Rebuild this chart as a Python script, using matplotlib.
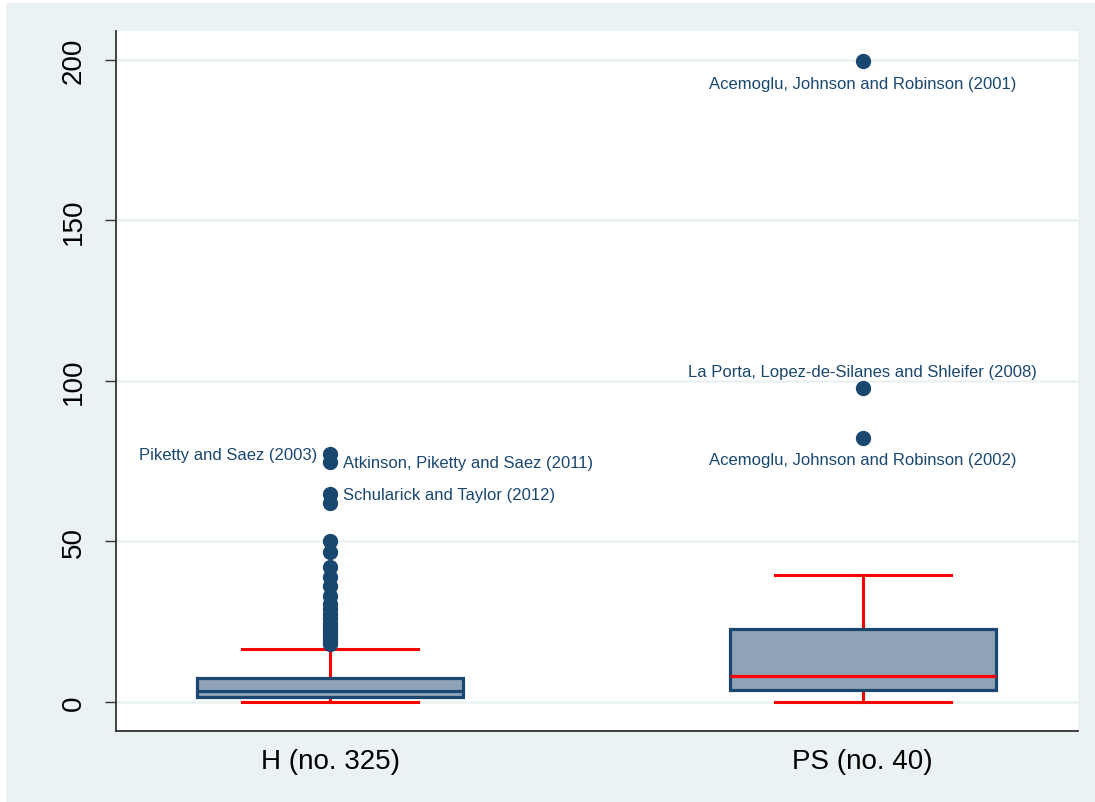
import matplotlib
matplotlib.use("Agg")
import matplotlib.pyplot as plt
from matplotlib.patches import Rectangle

plt.rcParams['font.family'] = ['Liberation Sans', 'DejaVu Sans']

# Groups and their summary statistics
groups = ["H (no. 325)", "PS (no. 40)"]
q1 = [1.5, 3.7]
median = [3.4, 8.0]
q3 = [7.4, 22.7]
whisker_low = [0.0, 0.0]
whisker_high = [16.4, 39.6]

# Outlying observations per group
fliers_h = [77.2, 74.6, 64.7, 61.9, 50.2, 46.6, 42.1, 38.9, 36.2, 33.0, 30.6,
            28.9, 27.4, 26.0, 24.6, 23.2, 22.0, 20.9, 19.9, 18.9, 17.9]
fliers_ps = [199.5, 97.7, 82.3]

# Labelled outliers: (group index, value, text, placement)
labels = [
    (0, 77.2, "Piketty and Saez (2003)", "left"),
    (0, 74.6, "Atkinson, Piketty and Saez (2011)", "right"),
    (0, 64.7, "Schularick and Taylor (2012)", "right"),
    (1, 199.5, "Acemoglu, Johnson and Robinson (2001)", "below"),
    (1, 97.7, "La Porta, Lopez-de-Silanes and Shleifer (2008)", "above"),
    (1, 82.3, "Acemoglu, Johnson and Robinson (2002)", "below"),
]

yticks = [0, 50, 100, 150, 200]

navy = "#1a476f"
fill = "#8ea3b8"
red = "#ff0000"
bg = "#eaf2f3"

fig = plt.figure(figsize=(10.95, 8.03), dpi=100, facecolor="white")
frame = Rectangle((6 / 1095, 0), 1 - 6 / 1095, 1 - 4 / 803,
                  transform=fig.transFigure, facecolor=bg,
                  edgecolor="none", zorder=-10)
fig.add_artist(frame)

ax = fig.add_axes([116 / 1095, 71 / 803, 962 / 1095, 700 / 803])
ax.set_facecolor("white")

stats = []
for i, name in enumerate(groups):
    stats.append(dict(label=name, med=median[i], q1=q1[i], q3=q3[i],
                      whislo=whisker_low[i], whishi=whisker_high[i],
                      fliers=[fliers_h, fliers_ps][i]))

positions = [1, 2]
parts = ax.bxp(stats, positions=positions, widths=0.5, capwidths=0.33,
               patch_artist=True, showfliers=True,
               boxprops=dict(facecolor=fill, edgecolor=navy, linewidth=2.3),
               whiskerprops=dict(color=red, linewidth=2.2),
               capprops=dict(color=red, linewidth=2.2),
               medianprops=dict(color=red, linewidth=2.3),
               flierprops=dict(marker="o", markerfacecolor=navy,
                               markeredgecolor=navy, markersize=10,
                               linestyle="none"))
parts["medians"][0].set_color(navy)
for w in parts["whiskers"]:
    w.set_zorder(1.5)
for b in parts["boxes"]:
    b.set_zorder(2)
for m in parts["medians"]:
    m.set_zorder(2.5)

# Light horizontal grid behind everything
for t in yticks:
    ax.axhline(t, color=bg, linewidth=1.8, zorder=0.5)

for gi, val, text, where in labels:
    x = positions[gi]
    if where == "left":
        off, ha, va = (-9, 0), "right", "center"
    elif where == "right":
        off, ha, va = (9, 0), "left", "center"
    elif where == "below":
        off, ha, va = (0, -16), "center", "center"
    else:
        off, ha, va = (0, 12), "center", "center"
    ax.annotate(text, (x, val), xytext=off, textcoords="offset points",
                ha=ha, va=va, fontsize=12, color=navy)

ax.set_xlim(0.598, 2.404)
ax.set_ylim(-9.1, 209.0)
ax.set_yticks(yticks)
ax.set_yticklabels([str(t) for t in yticks], rotation=90, va="center")
ax.set_xticks(positions)
ax.set_xticklabels(groups)
ax.tick_params(axis="y", labelsize=20, length=8, width=1.0, pad=13,
               color="#333333")
ax.tick_params(axis="x", labelsize=20, length=0, pad=12)

for s in ["top", "right"]:
    ax.spines[s].set_visible(False)
for s in ["left", "bottom"]:
    ax.spines[s].set_color("#333333")
    ax.spines[s].set_linewidth(1.3)

fig.savefig("out.png", dpi=100, facecolor="white")
